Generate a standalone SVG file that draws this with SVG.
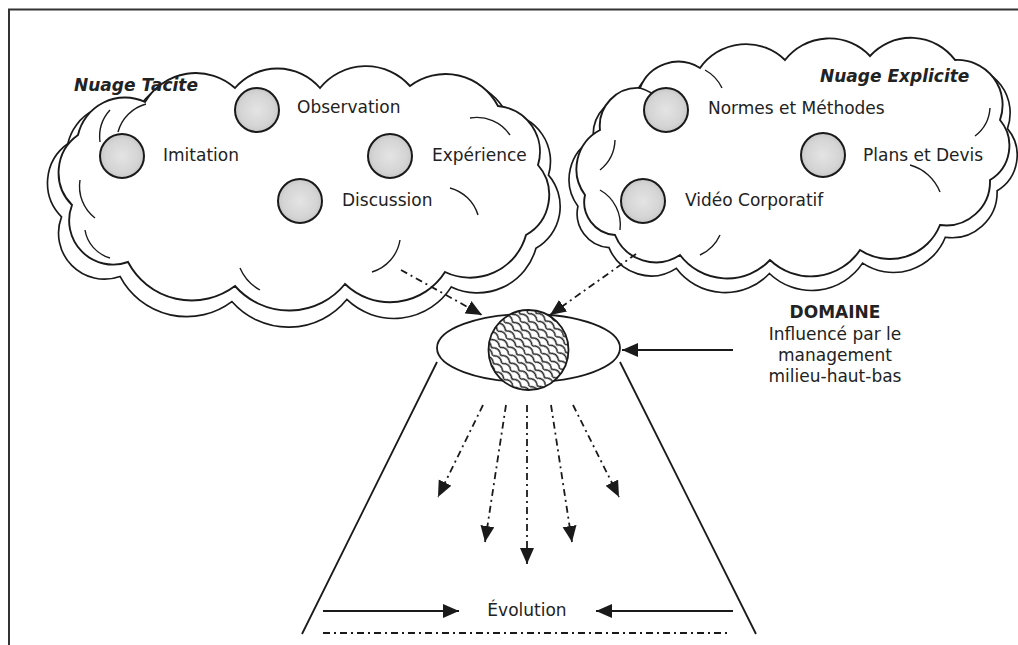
<svg xmlns="http://www.w3.org/2000/svg" width="1018" height="645" viewBox="0 0 1018 645">
  <style>
    .lbl { font-family: "DejaVu Sans", Verdana, "Liberation Sans", sans-serif; font-size: 17px; fill: #222; }
    .ttl { font-family: "DejaVu Sans", Verdana, "Liberation Sans", sans-serif; font-size: 17px; font-weight: bold; font-style: italic; fill: #222; }
    .bold { font-family: "DejaVu Sans", Verdana, "Liberation Sans", sans-serif; font-size: 17px; font-weight: bold; fill: #222; }
    .cloud-back { fill: #fff; stroke: #1a1a1a; stroke-width: 1.6; }
    .cloud-fill { fill: #fff; stroke: none; }
    .cloud-line { fill: none; stroke: #1a1a1a; stroke-width: 1.9; }
    .inner { fill: none; stroke: #1a1a1a; stroke-width: 1.4; }
    .ball { fill: url(#ballGrad); stroke: #1a1a1a; stroke-width: 2; }
    .solid { fill: none; stroke: #1a1a1a; stroke-width: 1.8; }
    .dashdot { fill: none; stroke: #1a1a1a; stroke-width: 1.8; stroke-dasharray: 7 4 2 4; }
    .frame { fill: none; stroke: #333; stroke-width: 2; }
  </style>
  <defs>
    <radialGradient id="ballGrad" cx="0.5" cy="0.5" r="0.55">
      <stop offset="0" stop-color="#e4e4e4"/>
      <stop offset="0.7" stop-color="#d4d4d4"/>
      <stop offset="1" stop-color="#c2c2c2"/>
    </radialGradient>
    <pattern id="scales" width="12" height="11" patternUnits="userSpaceOnUse" patternTransform="rotate(40)">
      <rect width="12" height="11" fill="#fff"/>
      <path d="M0,5.5 Q6,-0.5 12,5.5 M-6,11 Q0,5 6,11 M6,11 Q12,5 18,11" fill="none" stroke="#1a1a1a" stroke-width="1.5"/>
    </pattern>
    <marker id="head" markerUnits="userSpaceOnUse" markerWidth="17" markerHeight="15" refX="16" refY="7" orient="auto">
      <path d="M0,0 L16,7 L0,14 z" fill="#1a1a1a"/>
    </marker>
    <!-- cloud outlines -->
    <path id="tacitShape" d="M72,205 A46,46 0 0 1 78,135 A48,48 0 0 1 145,102 A59,59 0 0 1 235,88 A56,56 0 0 1 320,88 A59,59 0 0 1 410,86 A59,59 0 0 1 498,106 A46,46 0 0 1 538,165 A46,46 0 0 1 526,235 A58,58 0 0 1 445,272 A65,65 0 0 1 345,284 A72,72 0 0 1 235,286 A72,72 0 0 1 128,262 A44,44 0 0 1 72,205 Z"/>
    <path id="explicitShape" d="M585,195 A44,44 0 0 1 600,130 A38,38 0 0 1 640,88 A41,41 0 0 1 700,68 A56,56 0 0 1 785,60 A56,56 0 0 1 870,56 A55,55 0 0 1 955,60 A45,45 0 0 1 1000,120 A40,40 0 0 1 990,180 A44,44 0 0 1 940,225 A54,54 0 0 1 860,250 A59,59 0 0 1 770,260 A59,59 0 0 1 680,255 A44,44 0 0 1 615,235 A33,33 0 0 1 585,195 Z"/>
  </defs>

  <rect width="1018" height="645" fill="#fff"/>

  <!-- page frame -->
  <path class="frame" d="M9,645 L9,9.5 L1018,9.5"/>

  <!-- rear cloud layers -->
  <g id="cloud-backs">
    <use href="#tacitShape" class="cloud-back" transform="translate(305,196) scale(1.045) translate(-305,-185)"/>
    <use href="#explicitShape" class="cloud-back" transform="translate(787,170) scale(1.035) translate(-787,-160)"/>
  </g>

  <g id="cloud-tacit">
    <use href="#tacitShape" class="cloud-fill"/>
  </g>
  <g id="cloud-explicit">
    <use href="#explicitShape" class="cloud-fill"/>
  </g>
  <g id="cloud-outlines">
    <use href="#tacitShape" class="cloud-line"/>
    <use href="#explicitShape" class="cloud-line"/>
    <!-- inner folds of the cloud shapes -->
    <path class="inner" d="M110,110 A40,40 0 0 0 100,142"/>
    <path class="inner" d="M146,104 A40,40 0 0 0 118,132"/>
    <path class="inner" d="M80,180 A40,40 0 0 0 95,218"/>
    <path class="inner" d="M85,230 A35,35 0 0 0 110,258"/>
    <path class="inner" d="M470,118 A40,40 0 0 1 510,135"/>
    <path class="inner" d="M450,188 A40,40 0 0 1 478,215"/>
    <path class="inner" d="M400,240 A40,40 0 0 1 372,272"/>
    <path class="inner" d="M240,268 A45,45 0 0 0 260,290"/>
    <path class="inner" d="M640,88 A45,45 0 0 1 660,100"/>
    <path class="inner" d="M705,70 A40,40 0 0 1 722,88"/>
    <path class="inner" d="M615,140 A40,40 0 0 1 600,170"/>
    <path class="inner" d="M600,190 A40,40 0 0 1 620,230"/>
    <path class="inner" d="M990,108 A38,38 0 0 1 975,136"/>
    <path class="inner" d="M910,165 A45,45 0 0 1 940,192"/>
    <path class="inner" d="M720,235 A40,40 0 0 1 700,255"/>
  </g>

  <!-- tacit knowledge items -->
  <g id="nuage-tacite">
    <text class="ttl" x="74" y="91">Nuage Tacite</text>
  </g>
  <g id="imitation">
    <circle class="ball" cx="122" cy="156" r="22"/>
    <text class="lbl" x="163" y="161">Imitation</text>
  </g>
  <g id="observation">
    <circle class="ball" cx="257" cy="110" r="22"/>
    <text class="lbl" x="297" y="113">Observation</text>
  </g>
  <g id="experience">
    <circle class="ball" cx="390" cy="156" r="22"/>
    <text class="lbl" x="432" y="161">Expérience</text>
  </g>
  <g id="discussion">
    <circle class="ball" cx="300" cy="201" r="22"/>
    <text class="lbl" x="342" y="206">Discussion</text>
  </g>

  <!-- explicit knowledge items -->
  <g id="nuage-explicite">
    <text class="ttl" x="820" y="82">Nuage Explicite</text>
  </g>
  <g id="normes">
    <circle class="ball" cx="666" cy="110" r="22"/>
    <text class="lbl" x="708" y="114">Normes et Méthodes</text>
  </g>
  <g id="plans">
    <circle class="ball" cx="823" cy="155" r="22"/>
    <text class="lbl" x="863" y="161">Plans et Devis</text>
  </g>
  <g id="video">
    <circle class="ball" cx="643" cy="201" r="22"/>
    <text class="lbl" x="685" y="206">Vidéo Corporatif</text>
  </g>

  <!-- domain: eye with its hatched core and the widening field below -->
  <g id="domaine">
    <ellipse cx="528.5" cy="348" rx="91.5" ry="34" fill="#fff" stroke="#1a1a1a" stroke-width="1.8"/>
    <circle cx="528.5" cy="350" r="40" fill="url(#scales)" stroke="#1a1a1a" stroke-width="1.8"/>
    <path class="solid" d="M437,362 L302,634 M620,362 L756,634"/>
    <text class="bold" x="835" y="318" text-anchor="middle">DOMAINE</text>
    <text class="lbl" x="835" y="340" text-anchor="middle">Influencé par le</text>
    <text class="lbl" x="835" y="361" text-anchor="middle">management</text>
    <text class="lbl" x="835" y="382" text-anchor="middle">milieu-haut-bas</text>
  </g>

  <g id="evolution">
    <text class="lbl" x="527" y="616" text-anchor="middle">Évolution</text>
    <path class="dashdot" d="M323,633 L727,633" stroke-width="1.5"/>
  </g>

  <!-- connectors -->
  <g id="connectors">
    <path class="dashdot" d="M401,270 L482,315" marker-end="url(#head)"/>
    <path class="dashdot" d="M636,254 L550,315" marker-end="url(#head)"/>
    <path class="solid" d="M733,350 L622,350" marker-end="url(#head)"/>
    <path class="dashdot" d="M483,405 L438,497" marker-end="url(#head)"/>
    <path class="dashdot" d="M506,405 L485,542" marker-end="url(#head)"/>
    <path class="dashdot" d="M527,405 L527,564" marker-end="url(#head)"/>
    <path class="dashdot" d="M551,405 L572,542" marker-end="url(#head)"/>
    <path class="dashdot" d="M573,405 L619,497" marker-end="url(#head)"/>
    <path class="solid" d="M323,611 L459,611" marker-end="url(#head)"/>
    <path class="solid" d="M733,611 L596,611" marker-end="url(#head)"/>
  </g>
</svg>
